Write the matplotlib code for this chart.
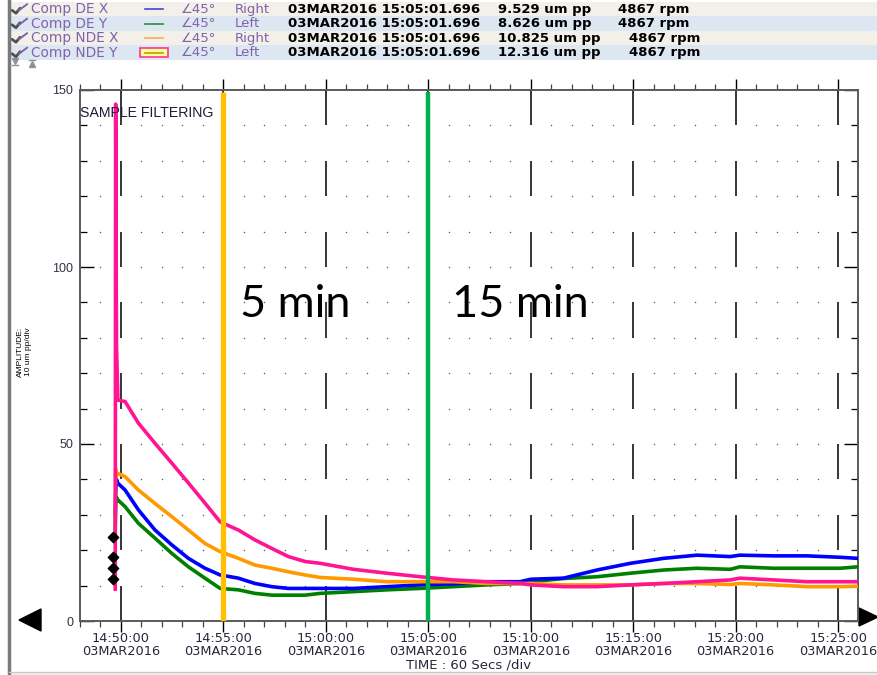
import numpy as np
import matplotlib
matplotlib.use("Agg")
import matplotlib.pyplot as plt
import matplotlib.dates as mdates
from matplotlib.patches import Rectangle, Polygon


# minutes after 14:48:00
TIME_MIN = [1.72, 1.74, 1.78, 1.85, 2.2, 2.85, 3.66, 4.48, 5.29, 6.1, 6.84, 7.73,
            8.54, 9.36, 10.17, 10.99, 11.72, 13.35, 14.97, 16.6, 18.23, 19.86,
            21.48, 22.0, 23.6, 25.23, 26.86, 28.48, 30.11, 31.74, 32.2, 33.85,
            35.48, 37.1, 37.95]

DE_X = [30, 36, 40, 38.9, 37, 31.4, 25.7, 21.5, 17.7, 14.9, 13, 12.1, 10.6, 9.7,
        9.2, 9.2, 9.2, 9.2, 9.7, 10.2, 10.5, 11.1, 11.1, 11.8, 12.1, 14.4, 16.3,
        17.7, 18.6, 18.2, 18.6, 18.4, 18.4, 18, 17.7]
DE_Y = [26, 33, 35, 34.2, 32.3, 27.6, 23.4, 19.1, 15.3, 12.1, 9.2, 8.8, 7.8, 7.3,
        7.3, 7.3, 7.8, 8.3, 8.8, 9.2, 9.7, 10.2, 10.6, 11.1, 12, 12.5, 13.5, 14.4,
        14.9, 14.6, 15.3, 14.9, 14.9, 14.9, 15.3]
NDE_X = [28, 43, 41, 41.7, 40.8, 37, 33.2, 29.5, 25.7, 21.9, 19.6, 17.7, 15.8,
         14.9, 13.9, 13, 12.3, 11.8, 11.1, 11.1, 11.1, 10.6, 10.6, 10.6, 10.2,
         10.2, 10.2, 10.6, 10.6, 10.3, 10.6, 10.2, 9.7, 9.7, 9.8]
NDE_Y = [9, 146, 78, 62.4, 62, 55.9, 50.2, 44.6, 39, 33.3, 28, 25.7, 22.9, 20.5,
         18.2, 16.8, 16.3, 14.6, 13.5, 12.5, 11.6, 11.1, 10.6, 10.2, 9.7, 9.7,
         10.2, 10.6, 11.1, 11.6, 12.1, 11.6, 11.1, 11.1, 11.1]

MARKER_MIN = [1.59, 1.59, 1.59, 1.59]
MARKER_VALUES = [23.7, 18.1, 15.1, 11.9]

CHANNELS = ["Comp DE X", "Comp DE Y", "Comp NDE X", "Comp NDE Y"]
SIDES = ["Right", "Left", "Right", "Left"]
READINGS = ["9.529 um pp", "8.626 um pp", "10.825 um pp", "12.316 um pp"]
SPEEDS = ["4867 rpm", "4867 rpm", "4867 rpm", "4867 rpm"]
CURSOR_TIME = "03MAR2016 15:05:01.696"

TICK_TIMES = ["14:50:00", "14:55:00", "15:00:00", "15:05:00",
              "15:10:00", "15:15:00", "15:20:00", "15:25:00"]
TICK_DATE = "03MAR2016"

MARK_5 = "14:55:00"
MARK_15 = "15:05:00"

COLORS = {"DE X": "#0000ff", "DE Y": "#008000", "NDE X": "#ff9900", "NDE Y": "#ff1493"}
LEGEND_LINE = ["#4444dd", "#2e8b3e", "#ffaa55", "#b8a000"]
PURPLE = "#8262aa"
LABEL_COLOR = "#26263a"

BASE = np.datetime64("2016-03-03T14:48:00")


def minutes_to_num(values):
    ms = (np.asarray(values, dtype=float) * 60000).astype("timedelta64[ms]")
    return mdates.date2num(BASE + ms)


def clock_to_num(text):
    return mdates.date2num(np.datetime64("2016-03-03T" + text))


plt.rcParams["font.family"] = ["DejaVu Sans"]

fig = plt.figure(figsize=(8.78, 6.75), dpi=100)
fig.patch.set_facecolor("white")

# pixel-space overlay for the header and frame
bg = fig.add_axes([0, 0, 1, 1])
bg.set_xlim(0, 878)
bg.set_ylim(675, 0)
bg.axis("off")

row_top = 1.5
row_h = 14.5
for i, name in enumerate(CHANNELS):
    y0 = row_top + i * row_h
    yc = y0 + row_h / 2 + 0.5
    face = "#f2f0e9" if i % 2 == 0 else "#dde7f2"
    bg.add_patch(Rectangle((10, y0), 868, row_h, facecolor=face, edgecolor="none"))
    # little pencil icon
    bg.plot([12, 16, 20], [yc + 1, yc + 4, yc - 1], color="#505050", lw=2.0,
            solid_capstyle="round")
    bg.plot([19, 27], [yc + 1, yc - 5], color=PURPLE, lw=1.4)
    bg.text(31, yc, name, color=PURPLE, fontsize=9.8, va="center")
    if i == 3:
        bg.add_patch(Rectangle((140, y0 + 2.5), 28, row_h - 5, facecolor="#ffff99",
                               edgecolor="#ff3399", lw=1.2))
    bg.plot([145, 163], [yc, yc], color=LEGEND_LINE[i], lw=1.2)
    bg.text(181, yc, "∠45°", color=PURPLE, fontsize=9.5, va="center")
    bg.text(235, yc, SIDES[i], color=PURPLE, fontsize=9.6, va="center")
    bg.text(288, yc, CURSOR_TIME, color="black", fontsize=9.5, fontweight="bold",
            va="center")
    bg.text(498, yc, READINGS[i], color="black", fontsize=9.5, fontweight="bold",
            va="center")
    bg.text(618 if i < 2 else 629, yc, SPEEDS[i], color="black", fontsize=9.5,
            fontweight="bold", va="center")

# frame line on the left and the bottom rule
bg.plot([9, 9], [0, 675], color="#7a7a7a", lw=2.5)
bg.plot([9, 878], [672, 672], color="#c8c8c8", lw=1.0)
bg.add_patch(Rectangle((10, 672), 868, 3, facecolor="#efefef", edgecolor="none"))
# collapse/expand icons
bg.plot([15], [61], marker="v", color="#909090", markersize=4)
bg.plot([12, 18], [65, 65], color="#909090", lw=1)
bg.plot([32], [64], marker="^", color="#909090", markersize=4)
bg.plot([29, 35], [60, 60], color="#909090", lw=1)
# scroll arrows
bg.add_patch(Polygon([[19, 620], [41, 609], [41, 631]], closed=True, color="black"))
bg.add_patch(Polygon([[859, 608], [878, 617], [859, 626]], closed=True, color="black"))

# y axis caption
bg.text(20, 352, "AMPLITUDE:", rotation=90, fontsize=6, ha="center", va="center",
        family="Liberation Sans")
bg.text(29, 352, "10 um pp/div", rotation=90, fontsize=6, ha="center", va="center",
        family="Liberation Sans")

ax = fig.add_axes([80 / 878, 1 - 621 / 675, 778 / 878, 531 / 675])
ax.set_facecolor("white")

x_lo = minutes_to_num([0])[0]
x_hi = minutes_to_num([37.97])[0]
ax.set_xlim(x_lo, x_hi)
ax.set_ylim(0, 150)

major_x = [clock_to_num(t) for t in TICK_TIMES]
minor_x = minutes_to_num(np.arange(0, 38, 1))
ax.set_xticks(major_x, [f"{t}\n{TICK_DATE}" for t in TICK_TIMES])
ax.set_xticks(minor_x, minor=True)
ax.set_yticks([0, 50, 100, 150])
ax.set_yticks(np.arange(0, 151, 10), minor=True)

ax.tick_params(axis="x", which="major", direction="out", length=8, width=1.0,
               top=True, bottom=True, labelsize=9.3, labelcolor=LABEL_COLOR,
               color="black", pad=0)
ax.tick_params(axis="x", which="minor", direction="out", length=4, width=0.9,
               top=True, bottom=True, color="#444444")
ax.tick_params(axis="y", which="major", direction="in", length=10, width=1.0,
               left=True, right=True, labelsize=9, labelcolor="#333344",
               color="black", pad=5)
ax.tick_params(axis="y", which="minor", direction="in", length=5, width=0.9,
               left=True, right=True, color="black")
for tick in ax.get_xticklabels():
    tick.set_linespacing(0.95)
for tick in ax.get_yticklabels():
    tick.set_family("Liberation Sans")

for side in ax.spines.values():
    side.set_color("#5a5a5a")
    side.set_linewidth(1.4)

# dotted grid at every minute / every 10 units
dot_x = [m for m in minutes_to_num(np.arange(1, 38, 1)) if
         min(abs(m - mx) for mx in major_x) > 1e-6]
gx, gy = np.meshgrid(dot_x, np.arange(10, 150, 10))
ax.scatter(gx.ravel(), gy.ravel(), s=1.2, color="#666666", linewidths=0, zorder=1)

# long-dash verticals at the labelled times
dash_lo = np.arange(0, 150, 20)
for mx in major_x:
    ax.vlines(np.full(dash_lo.size, mx), dash_lo, dash_lo + 10, color="black",
              lw=1.1, zorder=1)

t = minutes_to_num(TIME_MIN)
ax.plot(t, DE_Y, color=COLORS["DE Y"], lw=2.6, zorder=3)
ax.plot(t, DE_X, color=COLORS["DE X"], lw=2.6, zorder=3)
ax.plot(t, NDE_X, color=COLORS["NDE X"], lw=2.6, zorder=3)
ax.plot(t, NDE_Y, color=COLORS["NDE Y"], lw=2.6, zorder=3)

ax.scatter(minutes_to_num(MARKER_MIN), MARKER_VALUES, marker="D", s=28,
           color="black", zorder=4)

ax.vlines(clock_to_num(MARK_5), 0, 149.5, color="#ffc000", lw=3.8, zorder=5)
ax.vlines(clock_to_num(MARK_15), 0, 149.5, color="#00b050", lw=3.2, zorder=5)

ax.text(minutes_to_num([7.81])[0], 86.0, "5 min", fontsize=32.5, family="Lato",
        color="black", va="baseline", zorder=6)
ax.text(minutes_to_num([18.15])[0], 86.0, "15 min", fontsize=32.5, family="Lato",
        color="black", va="baseline", zorder=6)

ax.text(0.0, 143.6, "SAMPLE FILTERING", fontsize=10.2, color="#1a1a3a",
        family="Liberation Sans", ha="left", va="center", zorder=6,
        transform=ax.get_yaxis_transform())

ax.set_xlabel("TIME : 60 Secs /div", fontsize=9.5, color=LABEL_COLOR, labelpad=1)

fig.savefig("out.png", dpi=100)
